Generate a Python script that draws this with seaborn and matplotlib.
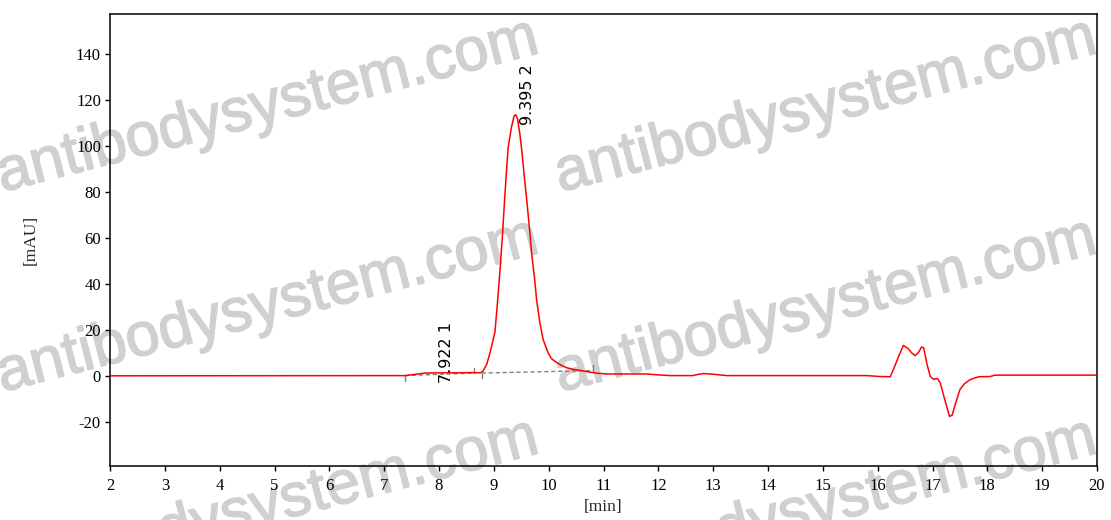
import numpy as np
import pandas as pd
import matplotlib
matplotlib.use("Agg")
import matplotlib.pyplot as plt
import matplotlib.patheffects as pe
import seaborn as sns

# chromatogram trace: time [min] and signal [mAU]
time_min = [2.0, 7.38, 7.55, 7.75, 8.0, 8.3, 8.6, 8.75, 8.80, 8.87, 8.93, 8.98,
             9.02, 9.06, 9.11, 9.16, 9.20, 9.26, 9.32, 9.37, 9.40, 9.43, 9.47,
             9.51, 9.55, 9.60, 9.65, 9.69, 9.74, 9.78, 9.84, 9.90, 9.99, 10.05,
             10.12, 10.22, 10.33, 10.45, 10.57, 10.75, 10.90, 11.06, 11.79, 12.0,
             12.21, 12.63, 12.72, 12.82, 13.0, 13.25, 15.8, 16.04, 16.23, 16.30,
             16.40, 16.47, 16.55, 16.62, 16.68, 16.74, 16.80, 16.84, 16.90, 16.96,
             17.02, 17.09, 17.14, 17.22, 17.31, 17.36, 17.42, 17.50, 17.58, 17.68,
             17.84, 18.05, 18.14, 20.0]
signal_mau = [0.0, 0.1, 0.6, 1.2, 1.3, 1.3, 1.4, 1.3, 2.0, 5.0, 10.0, 15.0,
              19.0, 30.0, 45.0, 62.0, 78.0, 99.0, 108.0, 113.0, 113.5, 112.0, 106.0,
              98.0, 88.0, 76.5, 64.0, 53.0, 43.0, 33.0, 23.0, 15.7, 10.0, 7.5,
              6.2, 4.7, 3.5, 2.8, 2.4, 1.6, 1.1, 0.8, 0.8, 0.4,
              0.1, 0.1, 0.6, 1.0, 0.7, 0.1, 0.1, -0.3, -0.4, 3.5,
              9.5, 13.2, 12.0, 10.0, 8.8, 10.0, 12.5, 12.2, 5.0, -0.3,
              -1.5, -1.2, -3.0, -10.0, -17.7, -17.0, -12.0, -6.0, -3.5, -1.7,
              -0.4, -0.3, 0.3, 0.3]

# integrated peaks
peak_rt = [7.922, 9.395]
peak_height = [1.3, 113.5]
peak_no = [1, 2]
peak_start = [7.38, 8.78]
peak_end = [8.63, 10.81]
base_start = [0.1, 1.2]
base_end = [1.2, 2.3]

x_ticks = list(range(2, 21))
y_ticks = [-20, 0, 20, 40, 60, 80, 100, 120, 140]

df = pd.DataFrame({"time": time_min, "signal": signal_mau})

sns.set_theme(style="ticks")
plt.rcParams["font.family"] = ["Liberation Serif", "DejaVu Serif"]
plt.rcParams["axes.unicode_minus"] = False

fig = plt.figure(figsize=(11.11, 5.2), dpi=100)
ax = fig.add_axes([110 / 1111, 1 - 466 / 520, 987 / 1111, 452 / 520])
ax.patch.set_alpha(0)

# watermark behind the axes
wm_pos = [(2, 192), (560, 192), (2, 392), (560, 392), (2, 592), (560, 592)]
for px, py in wm_pos:
    fig.text(px / 1111, 1 - py / 520, "antibodysystem.com", fontsize=44,
             family="Liberation Sans", color="#d0d0d0", rotation=14.5,
             rotation_mode="anchor", ha="left", va="baseline", zorder=-5,
             path_effects=[pe.withStroke(linewidth=1.1, foreground="#d0d0d0")])

# baselines of the integrated peaks
for s, e, bs, be in zip(peak_start, peak_end, base_start, base_end):
    ax.plot([s, e], [bs, be], color="#808080", lw=1.0, ls=(0, (3, 2)), zorder=2)
    ax.plot([s, s], [bs - 2.3, bs], color="#808080", lw=1.0, zorder=2)
    ax.plot([e, e], [be, be + 2.3], color="#808080", lw=1.0, zorder=2)

sns.lineplot(data=df, x="time", y="signal", ax=ax, color="#ff0000", lw=1.1,
             sort=False, estimator=None, zorder=3)

for rt, h, n in zip(peak_rt, peak_height, peak_no):
    ax.annotate(f"{rt:.3f} {n}", xy=(rt, h), xytext=(12, -10),
                textcoords="offset pixels", rotation=90, ha="center",
                va="bottom", fontsize=11.5, family="DejaVu Sans", color="black")

ax.set_xlim(2, 20)
ax.set_ylim(-39.2, 157.3)
ax.set_xticks(x_ticks)
ax.set_yticks(y_ticks)
ax.tick_params(direction="out", length=3.5, width=1, labelsize=12,
               colors="black")
ax.tick_params(axis="x", pad=5)
ax.tick_params(axis="y", pad=3)
for sp in ax.spines.values():
    sp.set_visible(True)
    sp.set_color("black")
    sp.set_linewidth(1.1)
ax.set_xlabel("[min]", fontsize=12.5, labelpad=4)
ax.set_ylabel("[mAU]", fontsize=12.5, labelpad=27)

fig.savefig("out.png", dpi=100)
